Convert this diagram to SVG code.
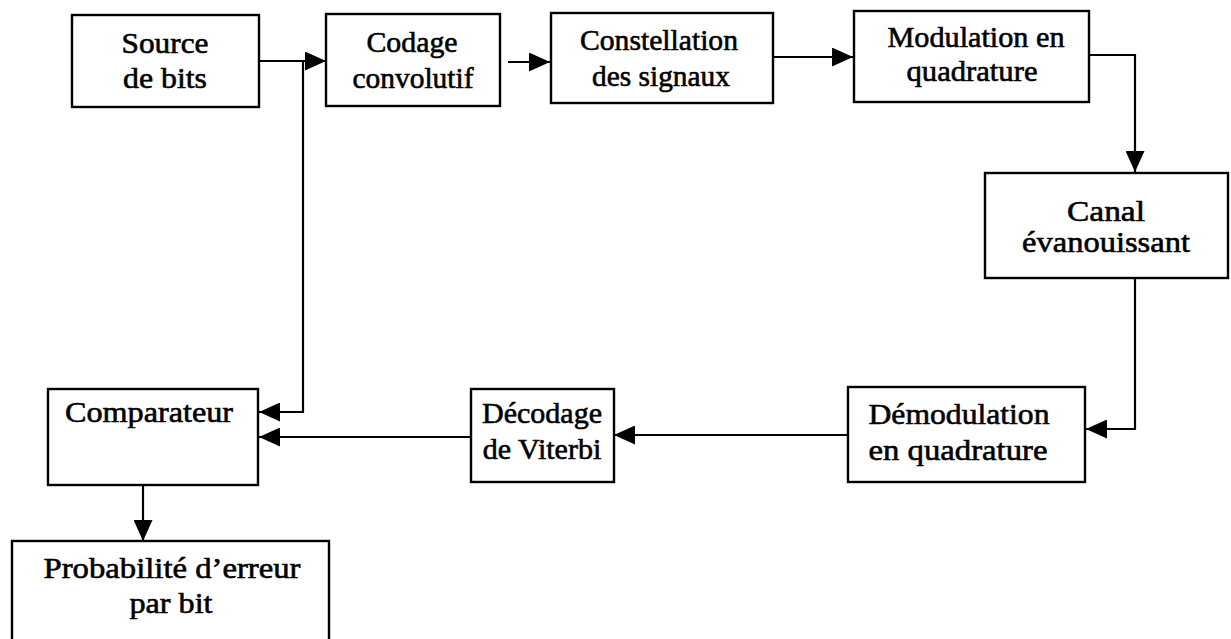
<svg xmlns="http://www.w3.org/2000/svg" width="1231" height="639" viewBox="0 0 1231 639">
  <style>
    .box { fill: #fff; stroke: #000; stroke-width: 2.4; }
    .lbl { font-family: "Liberation Serif", "Times New Roman", serif; font-size: 30px; fill: #000; stroke: #000; stroke-width: 0.6; text-anchor: middle; }
    .wire { fill: none; stroke: #000; stroke-width: 2.2; }
  </style>
  <defs>
    <marker id="arrow" markerUnits="userSpaceOnUse" markerWidth="21" markerHeight="19" refX="21" refY="9.5" orient="auto">
      <path d="M0,0 L21,9.5 L0,19 z" fill="#000"/>
    </marker>
  </defs>

  <rect width="1231" height="639" fill="#fff"/>

  <!-- connectors -->
  <g id="connectors">
    <path class="wire" d="M259,61 H326" marker-end="url(#arrow)"/>
    <path class="wire" d="M303,61 V412 H259" marker-end="url(#arrow)"/>
    <path class="wire" d="M508,62 H550" marker-end="url(#arrow)"/>
    <path class="wire" d="M773,57 H853" marker-end="url(#arrow)"/>
    <path class="wire" d="M1089,55 H1135 V172" marker-end="url(#arrow)"/>
    <path class="wire" d="M1135,278 V429 H1086" marker-end="url(#arrow)"/>
    <path class="wire" d="M848,435 H614" marker-end="url(#arrow)"/>
    <path class="wire" d="M471,437 H259" marker-end="url(#arrow)"/>
    <path class="wire" d="M143,485 V541" marker-end="url(#arrow)"/>
  </g>

  <g id="source">
    <rect class="box" x="72" y="15" width="187" height="92"/>
    <text class="lbl" x="165" y="53" textLength="87" lengthAdjust="spacingAndGlyphs">Source</text>
    <text class="lbl" x="165" y="88" textLength="84" lengthAdjust="spacingAndGlyphs">de bits</text>
  </g>

  <g id="codage">
    <rect class="box" x="326" y="14" width="174" height="92"/>
    <text class="lbl" x="412" y="52" textLength="91" lengthAdjust="spacingAndGlyphs">Codage</text>
    <text class="lbl" x="413" y="88" textLength="121" lengthAdjust="spacingAndGlyphs">convolutif</text>
  </g>

  <g id="constellation">
    <rect class="box" x="551" y="13" width="222" height="90"/>
    <text class="lbl" x="659" y="50" textLength="158" lengthAdjust="spacingAndGlyphs">Constellation</text>
    <text class="lbl" x="661" y="86" textLength="138" lengthAdjust="spacingAndGlyphs">des signaux</text>
  </g>

  <g id="modulation">
    <rect class="box" x="854" y="11" width="235" height="91"/>
    <text class="lbl" x="976" y="47" textLength="177" lengthAdjust="spacingAndGlyphs">Modulation en</text>
    <text class="lbl" x="972" y="81" textLength="131" lengthAdjust="spacingAndGlyphs">quadrature</text>
  </g>

  <g id="canal">
    <rect class="box" x="985" y="173" width="243" height="105"/>
    <text class="lbl" x="1106" y="221" textLength="78" lengthAdjust="spacingAndGlyphs">Canal</text>
    <text class="lbl" x="1106" y="252" textLength="168" lengthAdjust="spacingAndGlyphs">évanouissant</text>
  </g>

  <g id="demodulation">
    <rect class="box" x="848" y="387" width="237" height="95"/>
    <text class="lbl" x="959" y="424" textLength="181" lengthAdjust="spacingAndGlyphs">Démodulation</text>
    <text class="lbl" x="958" y="460" textLength="179" lengthAdjust="spacingAndGlyphs">en quadrature</text>
  </g>

  <g id="decodage">
    <rect class="box" x="471" y="389" width="143" height="93"/>
    <text class="lbl" x="542" y="423">Décodage</text>
    <text class="lbl" x="542" y="459">de Viterbi</text>
  </g>

  <g id="comparateur">
    <rect class="box" x="48" y="389" width="210" height="96"/>
    <text class="lbl" x="149" y="422" textLength="168" lengthAdjust="spacingAndGlyphs">Comparateur</text>
  </g>

  <g id="probabilite">
    <rect class="box" x="12" y="541" width="317" height="110"/>
    <text class="lbl" x="172" y="578" textLength="257" lengthAdjust="spacingAndGlyphs">Probabilité  d’erreur</text>
    <text class="lbl" x="171" y="613" textLength="83" lengthAdjust="spacingAndGlyphs">par bit</text>
  </g>
</svg>
